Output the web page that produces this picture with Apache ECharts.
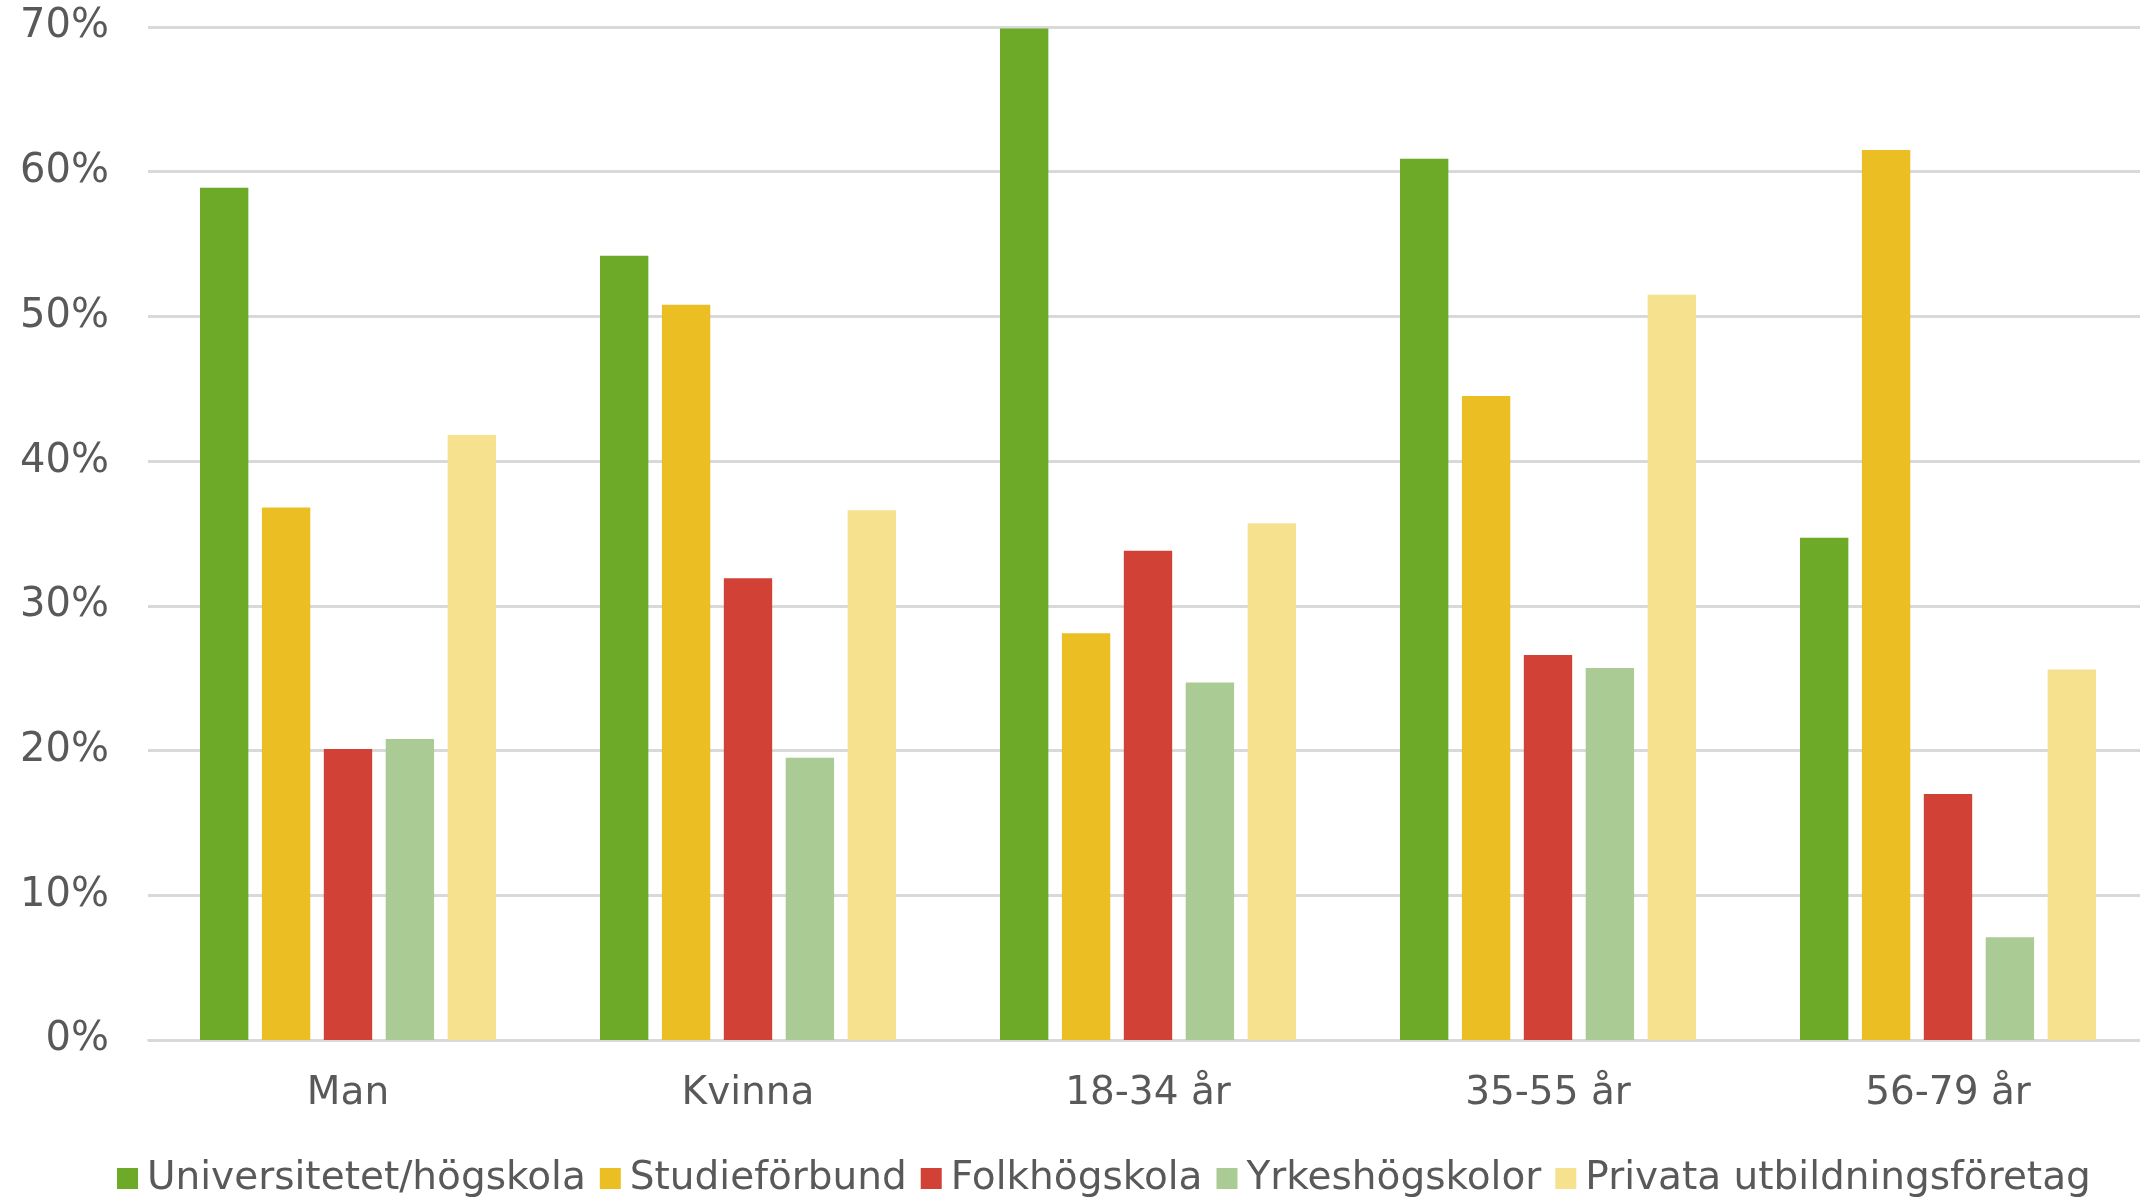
<!DOCTYPE html>
<html>
<head>
<meta charset="utf-8">
<script src="https://cdn.jsdelivr.net/npm/echarts@6/dist/echarts.min.js"></script>
<style>
html,body{margin:0;padding:0;background:#fff;}
#c{width:2140px;height:1200px;}
</style>
</head>
<body>
<div id="c"></div>
<script>
const categories = ['Man', 'Kvinna', '18-34 år', '35-55 år', '56-79 år'];
const seriesNames = ['Universitetet/högskola', 'Studieförbund', 'Folkhögskola', 'Yrkeshögskolor', 'Privata utbildningsföretag'];
const universitet = [58.9, 54.2, 69.9, 60.9, 34.7];
const studieforbund = [36.8, 50.8, 28.1, 44.5, 61.5];
const folkhogskola = [20.1, 31.9, 33.8, 26.6, 17.0];
const yrkeshogskolor = [20.8, 19.5, 24.7, 25.7, 7.1];
const privata = [41.8, 36.6, 35.7, 51.5, 25.6];
const yTicks = [0, 10, 20, 30, 40, 50, 60, 70];

const colors = ['#6caa27', '#ebbf24', '#d24135', '#abcb95', '#f6e18f'];
const values = [universitet, studieforbund, folkhogskola, yrkeshogskolor, privata];
const font = 'DejaVu Sans, Verdana, sans-serif';

const chart = echarts.init(document.getElementById('c'));
chart.setOption({
  animation: false,
  color: colors,
  grid: { left: 148, width: 2000, top: 27, height: 1013, containLabel: false, outerBoundsMode: 'none' },
  legend: {
    bottom: -3,
    left: 112,
    itemWidth: 21,
    itemHeight: 21,
    itemGap: 14,
    icon: 'rect',
    textStyle: { fontFamily: font, fontSize: 39, color: '#595959', padding: [0, 0, 0, 4] },
    data: seriesNames
  },
  xAxis: {
    type: 'category',
    data: categories,
    axisLine: { lineStyle: { color: '#d9d9d9', width: 2 } },
    axisTick: { show: false },
    axisLabel: { fontFamily: font, fontSize: 39, color: '#595959', margin: 34 }
  },
  yAxis: {
    type: 'value',
    min: yTicks[0],
    max: yTicks[yTicks.length - 1],
    interval: 10,
    axisLine: { show: false },
    axisTick: { show: false },
    splitLine: { lineStyle: { color: '#d9d9d9', width: 3 } },
    axisLabel: { fontFamily: font, fontSize: 40, color: '#595959', margin: 39, formatter: v => v + '%' }
  },
  series: seriesNames.map((n, i) => ({
    name: n,
    type: 'bar',
    data: values[i],
    barGap: '28%',
    barCategoryGap: '26%',
    itemStyle: { color: colors[i] }
  }))
});
</script>
</body>
</html>
